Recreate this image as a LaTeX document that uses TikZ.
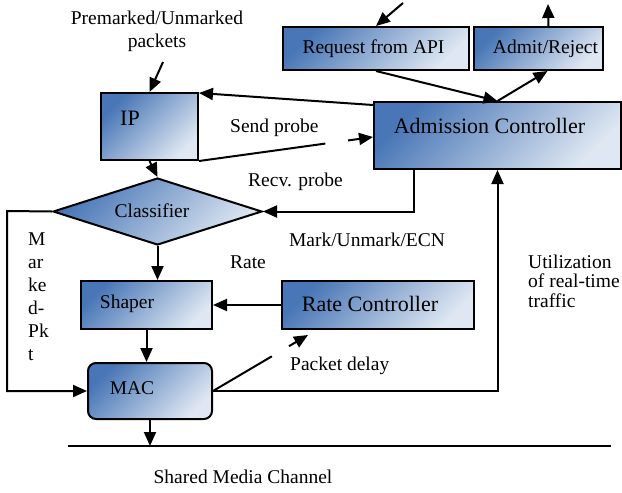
\documentclass[tikz,border=0pt]{standalone}
\usepackage{fontspec}
\setmainfont{Liberation Serif}
\usetikzlibrary{shapes.geometric,arrows.meta,calc}
\definecolor{boxdark}{RGB}{72,118,182}
\definecolor{boxlight}{RGB}{222,231,242}
\tikzset{
  box/.style={draw=black, line width=2pt, inner sep=0pt, top color=boxdark, bottom color=boxlight, shading angle=45},
  rbox/.style={box, rectangle},
  dbox/.style={box, diamond},
  lbl/.style={inner sep=0pt, font=\fontsize{19.5}{23}\selectfont},
  big/.style={inner sep=0pt, font=\fontsize{22}{26}\selectfont},
  conn/.style={line width=2pt},
  arr/.style={conn, -{Triangle[length=14pt,width=12pt]}}
}
\begin{document}
\begin{tikzpicture}[x=1pt,y=-1pt]
\useasboundingbox (0,0) rectangle (622,493);
% boxes
\node[rbox, minimum width=97pt, minimum height=67pt] (ip) at (149.5,126.5) {};
\node[dbox, minimum width=209pt, minimum height=67pt] (cls) at (157.5,211.5) {};
\node[rbox, minimum width=131pt, minimum height=48pt] (shaper) at (146.5,305) {};
\node[rbox, rounded corners=8pt, minimum width=124pt, minimum height=56pt] (mac) at (150,391) {};
\node[rbox, minimum width=192pt, minimum height=48pt] (rc) at (378,305) {};
\node[rbox, minimum width=247pt, minimum height=67pt] (ac) at (497.5,135.5) {};
\node[rbox, minimum width=186pt, minimum height=43pt] (req) at (376,48.5) {};
\node[rbox, minimum width=129pt, minimum height=43pt] (adm) at (538.5,48.5) {};
% box texts
\node[big] (tip) at (130,118) {IP};
\node[lbl] (tcls) at (152,211) {Classifier};
\node[lbl] (tshaper) at (127,304) {Shaper};
\node[lbl] (tmac) at (132,388) {MAC};
\node[big] (trc) at (370,304) {Rate Controller};
\node[big] (tac) at (489.5,126) {Admission Controller};
\node[lbl] (treq) at (373.5,49) {Request from API};
\node[lbl] (tadm) at (545.5,49) {Admit/Reject};
% free labels
\node[lbl, align=center] (tpre) at (157,31) {Premarked/Unmarked\\packets};
\node[lbl, anchor=west] (tsend) at (230,128) {Send probe};
\node[lbl, anchor=west] (trecv) at (248,182) {Recv. probe};
\node[lbl] (tmark) at (367,240) {Mark/Unmark/ECN};
\node[lbl] (trate) at (248,262) {Rate};
\node[lbl, anchor=west] (tpd) at (290,366) {Packet delay};
\node[lbl, anchor=west, align=left, font=\fontsize{19.5}{19.5}\selectfont] (tutil) at (528,281) {Utilization\\of real-time\\traffic};
\node[lbl, anchor=north west, align=left, font=\fontsize{19.5}{23}\selectfont] (tmk) at (28,233) {M\\ar\\ke\\d-\\Pk\\t};
\node[lbl] (tch) at (243,477) {Shared Media Channel};
% coordinates
\coordinate (pm) at (163,62);
\coordinate (mk) at (7,211);
\coordinate (ch1) at (68,446);
\coordinate (ch2) at (611,446);
\coordinate (pdtip) at (308,335);
\coordinate (reqin) at (403,3);
\coordinate (admout) at (548,4);
% connectors
\draw[arr] (pm) -- (ip.north);
\draw[arr] (ip.south) -- (cls.north);
\draw[arr] (cls.south) -- (cls.south |- shaper.north);
\draw[arr] (shaper.south) -- (shaper.south |- mac.north);
\draw[arr] (mac.south) -- (mac.south |- ch1);
\draw[conn] (ch1) -- (ch2);
\draw[arr] (cls.west) -- (mk) |- (mac.west);
\draw[arr] (rc.west) -- (shaper.east);
\draw[conn] (mac.east) -- ($(mac.east)!0.62!(pdtip)$);
\draw[arr] ($(mac.east)!0.8!(pdtip)$) -- (pdtip);
\draw[arr] (mac.east) -| (ac.south);
\draw[arr] ($(ac.south west)+(41,0)$) |- (cls.east);
\draw[arr] ($(ac.north west)+(0,4)$) -- ($(ip.north east)+(0,1)$);
\coordinate (acin) at ($(ac.west)+(0,1.5)$);
\draw[conn] (ip.south east) -- ($(ip.south east)!0.726!(acin)$);
\draw[arr] ($(ip.south east)!0.857!(acin)$) -- (acin);
\draw[arr] (req.south) -- (ac.north);
\draw[arr] (ac.north) -- ($(adm.south)+(9,0)$);
\draw[arr] (reqin) -- (req.north);
\draw[arr] ($(adm.north)+(10,0)$) -- (admout);
\end{tikzpicture}
\end{document}
